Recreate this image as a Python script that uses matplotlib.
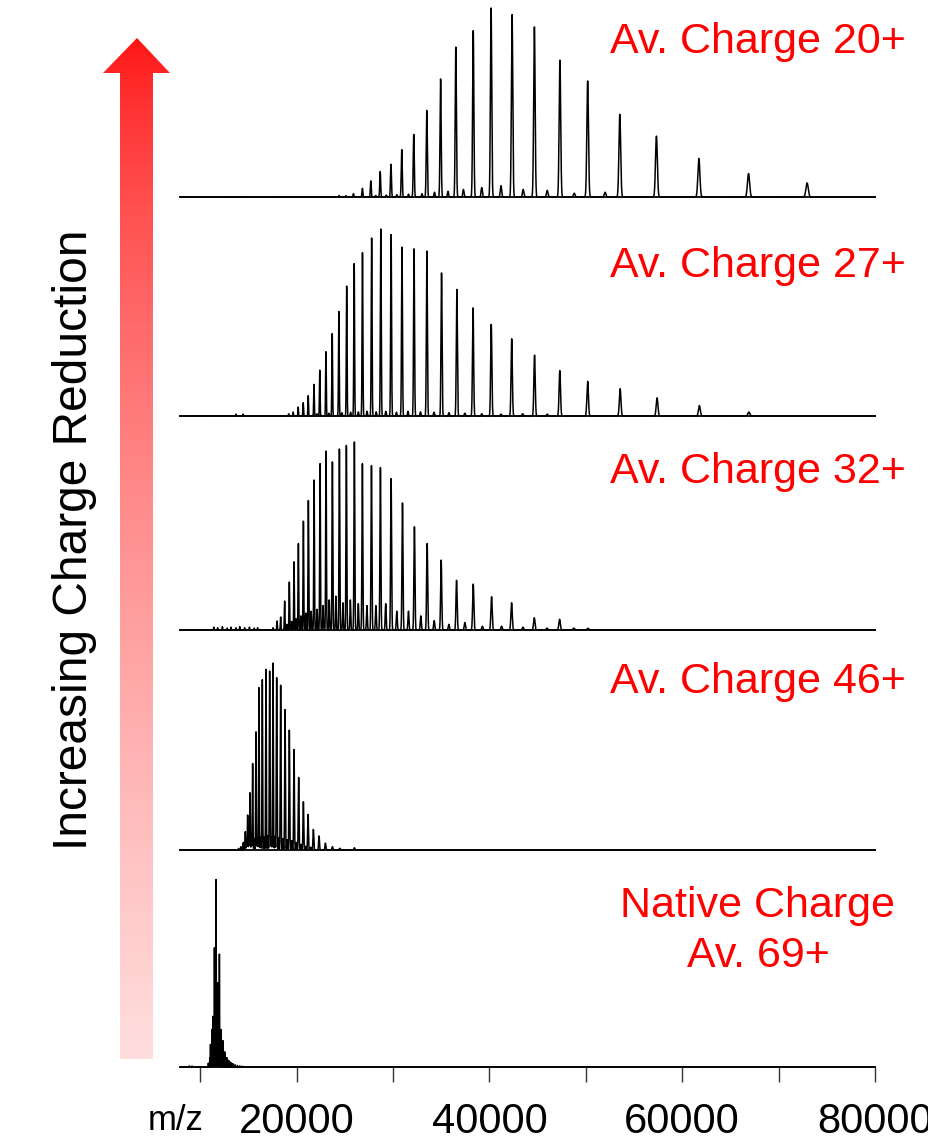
import numpy as np
import matplotlib
matplotlib.use("Agg")
import matplotlib.pyplot as plt
from matplotlib.patches import Polygon

plt.rcParams['font.family'] = ['Liberation Sans', 'DejaVu Sans']

# ---------------- data ----------------
labels = ["Av. Charge 20+", "Av. Charge 27+", "Av. Charge 32+", "Av. Charge 46+", "Native Charge\nAv. 69+"]

# panel 1 : Av. charge 20+
p1_mz = [25100, 25890, 26820, 27695, 28670, 29784, 30905, 32150, 33500, 34935, 36513, 38320,
         40170, 42350, 44665, 47313, 50190, 53524, 57325, 61730, 66880, 72956]
p1_h = [0.007, 0.018, 0.046, 0.085, 0.135, 0.173, 0.251, 0.331, 0.458, 0.625, 0.793, 0.880,
        1.0, 0.965, 0.900, 0.724, 0.614, 0.437, 0.322, 0.204, 0.124, 0.074]
p1_sat_mz = [24400, 28200, 29300, 30400, 31600, 33000, 34300, 35700, 37300, 39200, 41200, 43500, 46000,
             48800, 52000]
p1_sat_h = [0.008, 0.008, 0.010, 0.012, 0.015, 0.018, 0.025, 0.030, 0.040, 0.050, 0.060, 0.040, 0.035,
            0.020, 0.025]

# panel 2 : Av. charge 27+
p2_mz = [19170, 19640, 20160, 20680, 21200, 21800, 22400, 23040, 23690, 24380, 25190, 25970, 26830,
         27780, 28730, 29800, 30930, 32180, 33510, 35030, 36620, 38300, 40190, 42310, 44680, 47300,
         50190, 53560, 57390, 61780, 66910]
p2_h = [0.012, 0.021, 0.048, 0.071, 0.109, 0.169, 0.245, 0.344, 0.441, 0.559, 0.695, 0.815, 0.873,
        0.952, 1.0, 0.970, 0.903, 0.894, 0.882, 0.765, 0.677, 0.578, 0.490, 0.413, 0.325, 0.243,
        0.185, 0.146, 0.097, 0.056, 0.021]
p2_sat_mz = [13700, 14450, 22100, 23350, 24700, 25600, 26400, 27300, 28250, 29250, 30350, 31550, 32850,
             34250, 35800, 37450, 39200, 41200, 43450, 46000]
p2_sat_h = [0.010, 0.010, 0.012, 0.015, 0.018, 0.020, 0.022, 0.025, 0.022, 0.025, 0.020, 0.025, 0.022,
            0.020, 0.018, 0.015, 0.012, 0.010, 0.012, 0.010]

# panel 3 : Av. charge 32+
p3_mz = [17550, 17965, 18340, 18755, 19240, 19730, 20180, 20700, 21215, 21810, 22430, 23050, 23710,
         24435, 25160, 25990, 26820, 27760, 28690, 29800, 30980, 32220, 33540, 34995, 36590, 38320,
         40220, 42300, 44655, 47280, 50220]
p3_h = [0.012, 0.048, 0.069, 0.154, 0.255, 0.363, 0.460, 0.579, 0.689, 0.798, 0.885, 0.952, 0.894,
        0.963, 0.982, 1.0, 0.885, 0.874, 0.864, 0.805, 0.676, 0.549, 0.460, 0.372, 0.264, 0.244,
        0.177, 0.145, 0.065, 0.057, 0.009]
p3_sat_mz = [11400, 11800, 12300, 12800, 13200, 13700, 14100, 14600, 15100, 15600, 15950,
             19000, 19480, 19950, 20440, 20950, 21500, 22120, 22740, 23380, 24070, 24800, 25570,
             26400, 27290, 28220, 29240, 30390, 31600, 32880, 34270, 35790, 37450, 39270, 41260, 43480,
             45970, 48750]
p3_sat_h = [0.015, 0.012, 0.018, 0.010, 0.015, 0.012, 0.018, 0.012, 0.015, 0.010, 0.012,
            0.030, 0.045, 0.060, 0.075, 0.090, 0.100, 0.110, 0.130, 0.160, 0.180, 0.145, 0.160,
            0.140, 0.130, 0.130, 0.140, 0.100, 0.100, 0.075, 0.050, 0.030, 0.040, 0.020, 0.020, 0.015,
            0.010, 0.010]

# panel 4 : Av. charge 46+
p4_mz = [13980, 14225, 14465, 14675, 14915, 15160, 15435, 15780, 16090, 16440, 16820, 17200, 17550,
         17925, 18340, 18795, 19240, 19730, 20210, 20700, 21185, 21735, 22325, 22980, 23710, 24470, 25990]
p4_h = [0.009, 0.018, 0.041, 0.098, 0.187, 0.306, 0.463, 0.632, 0.868, 0.911, 0.966, 0.957, 1.0,
        0.922, 0.881, 0.751, 0.641, 0.537, 0.388, 0.258, 0.190, 0.110, 0.075, 0.037, 0.018, 0.009, 0.012]
p4_sat_mz = [14800, 15040, 15300, 15600, 15930, 16260, 16630, 17010, 17370, 17740, 18130, 18560, 19010,
             19480, 19970, 20450, 20940, 21460]
p4_sat_h = [0.030, 0.040, 0.050, 0.060, 0.065, 0.070, 0.070, 0.075, 0.070, 0.070, 0.065, 0.060, 0.055,
            0.050, 0.040, 0.030, 0.020, 0.015]

# panel 5 : native charge 69+
p5_mz = [8850, 9150, 10840, 10990, 11150, 11310, 11470, 11640, 11810, 11985, 12170, 12355, 12550,
         12750, 12950, 13160, 13380, 13610, 13850, 14100, 14330]
p5_h = [0.006, 0.005, 0.02, 0.05, 0.09, 0.27, 0.634, 1.0, 0.45, 0.602, 0.20, 0.14, 0.08, 0.05, 0.035,
        0.025, 0.018, 0.012, 0.008, 0.006, 0.004]
p5_sat_mz = [11060, 11230, 11390, 11555, 11725, 11900, 12080, 12260, 12450, 12650, 12850, 13050]
p5_sat_h = [0.12, 0.20, 0.26, 0.27, 0.25, 0.22, 0.17, 0.12, 0.08, 0.05, 0.035, 0.025]

panels = [
    (p1_mz + p1_sat_mz, p1_h + p1_sat_h),
    (p2_mz + p2_sat_mz, p2_h + p2_sat_h),
    (p3_mz + p3_sat_mz, p3_h + p3_sat_h),
    (p4_mz + p4_sat_mz, p4_h + p4_sat_h),
    (p5_mz + p5_sat_mz, p5_h + p5_sat_h),
]

xticks_major = [20000, 40000, 60000, 80000]
xticks_minor = [10000, 30000, 50000, 70000]

# ---------------- layout ----------------
W, H = 929, 1141
fig = plt.figure(figsize=(W / 100, H / 100), dpi=100)

baselines = [197, 416, 630, 850, 1067]
tops = [8, 229, 442, 663, 879]
resolutions = [600, 650, 600, 500, 900]
x_left, x_right = 180, 875
XMIN, XMAX = 7900, 80000

xgrid = np.arange(XMIN, XMAX, 3.0)

def spectrum(mz, h, res):
    mz = np.asarray(mz, float)[:, None]
    h = np.asarray(h, float)[:, None]
    sig = mz / res
    return (h * np.exp(-0.5 * ((xgrid[None, :] - mz) / sig) ** 2)).sum(axis=0)

for i, (mz, h) in enumerate(panels):
    b, t = baselines[i], tops[i]
    ax = fig.add_axes([x_left / W, 1 - b / H, (x_right - x_left) / W, (b - t) / H])
    ax.patch.set_visible(False)
    ax.plot(xgrid, spectrum(mz, h, resolutions[i]), color='black', lw=1.1, clip_on=False)
    ax.set_xlim(XMIN, XMAX)
    ax.set_ylim(0, 1.0)
    for s in ['top', 'right', 'left']:
        ax.spines[s].set_visible(False)
    ax.spines['bottom'].set_linewidth(1.3)
    ax.set_yticks([])
    if i < 4:
        ax.set_xticks([])
    else:
        ax.set_xticks(xticks_minor + xticks_major)
        ax.set_xticklabels([''] * len(xticks_minor) + [f"{v}" for v in xticks_major])
        ax.tick_params(axis='x', direction='out', length=11, width=1.0, color='#333333',
                       labelsize=30, pad=14)

# overlay for arrow and texts (pixel coordinates)
ov = fig.add_axes([0, 0, 1, 1], zorder=5)
ov.patch.set_visible(False)
ov.set_xlim(0, W)
ov.set_ylim(H, 0)
ov.axis('off')

arrow_pts = [(120, 1059), (120, 73), (103, 73), (137, 38), (170, 73), (153, 73), (153, 1059)]
poly = Polygon(arrow_pts, closed=True, facecolor='none', edgecolor='none')
ov.add_patch(poly)
n = 400
frac = np.linspace(0, 1, n) ** 0.65  # 0 top -> 1 bottom
frac = frac[:, None]
top_c = np.array([1.0, 0.06, 0.06])
bot_c = np.array([1.0, 0.87, 0.87])
grad = top_c[None, None, :] * (1 - frac[:, :, None]) + bot_c[None, None, :] * frac[:, :, None]
grad = np.repeat(grad, 2, axis=1)
im = ov.imshow(grad, extent=(100, 173, 1059, 38), aspect='auto', interpolation='bilinear')
im.set_clip_path(poly)

red = '#ff0000'
text_y = [42, 266, 472, 682]
for lab, y in zip(labels[:4], text_y):
    ov.text(906, y, lab, color=red, fontsize=31, ha='right', va='center')
ov.text(758, 931, labels[4], color=red, fontsize=31, ha='center', va='center', linespacing=1.3)

ov.text(75, 540, "Increasing Charge Reduction", rotation=90, fontsize=34.5, ha='center', va='center',
        color='black')
ov.text(176, 1120, "m/z", fontsize=25, ha='center', va='center', color='black')

fig.savefig("out.png", dpi=100)
